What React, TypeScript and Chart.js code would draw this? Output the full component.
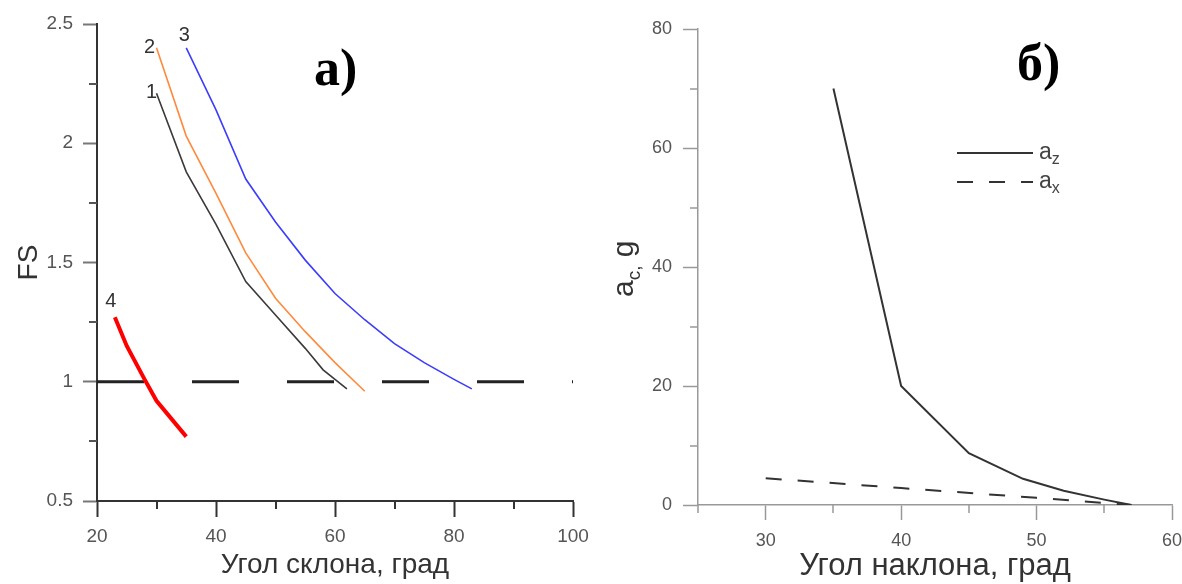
import React, { useEffect, useRef } from 'react';
import { Chart, registerables } from 'chart.js';

Chart.register(...registerables);

// ---------- Panel а): FS vs slope angle ----------
const curve1Angle = [30, 35, 40, 45, 50, 55, 58, 62];
const curve1FS = [2.21, 1.88, 1.66, 1.42, 1.28, 1.14, 1.05, 0.97];
const curve2Angle = [30, 35, 40, 45, 50, 55, 60, 65];
const curve2FS = [2.4, 2.03, 1.79, 1.54, 1.35, 1.21, 1.08, 0.96];
const curve3Angle = [35, 40, 45, 50, 55, 60, 65, 70, 75, 80, 83];
const curve3FS = [2.4, 2.14, 1.85, 1.67, 1.51, 1.37, 1.26, 1.16, 1.08, 1.01, 0.97];
const curve4Angle = [23, 25, 28, 30, 35];
const curve4FS = [1.27, 1.15, 1.01, 0.92, 0.77];
const thresholdAngle = [20, 100];
const thresholdFS = [1, 1];
const curveNames = ['1', '2', '3', '4'];
const leftXMajor = [20, 40, 60, 80, 100];
const leftXMinor = [30, 50, 70, 90];
const leftYMajor = [0.5, 1, 1.5, 2, 2.5];
const leftYMinor = [0.75, 1.25, 1.75, 2.25];
const leftXTitle = 'Угол склона, град';
const leftYTitle = 'FS';
const leftPanelTag = 'а)';

// ---------- Panel б): a_c vs inclination angle ----------
const azAngle = [35, 40, 45, 49, 52, 55, 57];
const azValue = [70, 20, 8.7, 4.4, 2.4, 0.9, 0];
const axAngle = [30, 40, 50, 57];
const axValue = [4.5, 2.85, 1.2, 0];
const legendSubs = ['z', 'x'];
const rightXMajor = [30, 40, 50, 60];
const rightXMinor = [25, 35, 45, 55];
const rightYMajor = [0, 20, 40, 60, 80];
const rightYMinor = [10, 30, 50, 70];
const rightXTitle = 'Угол наклона, град';
const rightPanelTag = 'б)';

const SANS = '"Liberation Sans", Arial, sans-serif';
const SERIF = '"Liberation Serif", "Times New Roman", serif';

const pts = (xs: number[], ys: number[]) => xs.map((x, i) => ({ x, y: ys[i] }));
const plainLabel = (v: any) => String(v);

function drawMinor(chart: any, axisId: string, values: number[], len: number, color: string, width: number) {
  const s = chart.scales[axisId];
  const ctx = chart.ctx;
  const a = chart.chartArea;
  ctx.save();
  ctx.strokeStyle = color;
  ctx.lineWidth = width;
  ctx.beginPath();
  for (const v of values) {
    const p = Math.round(s.getPixelForValue(v));
    if (s.isHorizontal()) {
      ctx.moveTo(p, a.bottom);
      ctx.lineTo(p, a.bottom + len);
    } else {
      ctx.moveTo(a.left, p);
      ctx.lineTo(a.left - len, p);
    }
  }
  ctx.stroke();
  ctx.restore();
}

const leftLabelOffsets = [
  [-5, -1],
  [-7, 0],
  [-2, -12],
  [-4, -16],
];

function leftConfig(): any {
  const line = (data: any, color: string, width: number, dash: number[] = []) => ({
    data,
    borderColor: color,
    backgroundColor: color,
    borderWidth: width,
    borderDash: dash,
    pointRadius: 0,
    tension: 0,
    fill: false,
  });
  return {
    type: 'line',
    data: {
      datasets: [
        line(pts(curve1Angle, curve1FS), '#3a3a3a', 1.6),
        line(pts(curve2Angle, curve2FS), '#ff8a3c', 1.6),
        line(pts(curve3Angle, curve3FS), '#3c3cff', 1.6),
        line(pts(curve4Angle, curve4FS), '#ff0000', 4),
        line(pts(thresholdAngle, thresholdFS), '#222222', 3, [47, 48]),
      ],
    },
    options: {
      animation: false,
      responsive: false,
      events: [],
      layout: { padding: { top: 24, right: 18, left: 0, bottom: 0 } },
      plugins: { legend: { display: false }, tooltip: { enabled: false } },
      scales: {
        x: {
          type: 'linear',
          min: 20,
          max: 100,
          afterBuildTicks: (s: any) => {
            s.ticks = leftXMajor.map((v) => ({ value: v }));
          },
          afterFit: (s: any) => {
            s.height = 83;
            s.paddingLeft = 0;
            s.paddingRight = 0;
          },
          grid: { drawOnChartArea: false, tickLength: 16, tickColor: '#333', tickWidth: 2 },
          border: { color: '#333', width: 2 },
          ticks: { font: { family: SANS, size: 19 }, color: '#555', padding: 8, maxRotation: 0, autoSkip: false, callback: plainLabel },
          title: {
            display: true,
            text: leftXTitle,
            font: { family: SANS, size: 28, lineHeight: 1 },
            color: '#333',
            padding: { top: 0, bottom: 5 },
          },
        },
        y: {
          type: 'linear',
          min: 0.5,
          max: 2.5,
          afterBuildTicks: (s: any) => {
            s.ticks = leftYMajor.map((v) => ({ value: v }));
          },
          afterFit: (s: any) => {
            s.width = 97;
            s.paddingTop = 0;
            s.paddingBottom = 0;
          },
          grid: { drawOnChartArea: false, tickLength: 14, tickColor: '#777', tickWidth: 2 },
          border: { color: '#333', width: 2 },
          ticks: { font: { family: SANS, size: 19 }, color: '#555', padding: 10, autoSkip: false, callback: plainLabel },
          title: {
            display: true,
            text: leftYTitle,
            font: { family: SANS, size: 28, lineHeight: 1 },
            color: '#333',
            padding: { top: 15, bottom: 0 },
          },
        },
      },
    },
    plugins: [
      {
        id: 'leftDecor',
        afterDraw(chart: any) {
          const ctx = chart.ctx;
          drawMinor(chart, 'x', leftXMinor, 8, '#333', 2);
          drawMinor(chart, 'y', leftYMinor, 8, '#555', 2);
          ctx.save();
          ctx.fillStyle = '#333';
          ctx.font = `20px ${SANS}`;
          ctx.textAlign = 'center';
          ctx.textBaseline = 'middle';
          curveNames.forEach((name, i) => {
            const p = chart.getDatasetMeta(i).data[0];
            ctx.fillText(name, p.x + leftLabelOffsets[i][0], p.y + leftLabelOffsets[i][1]);
          });
          ctx.fillStyle = '#000';
          ctx.font = `bold 52px ${SERIF}`;
          ctx.textAlign = 'left';
          ctx.textBaseline = 'alphabetic';
          ctx.fillText(leftPanelTag, chart.chartArea.left + 217, chart.chartArea.top + 61);
          ctx.restore();
        },
      },
    ],
  };
}

function rightConfig(): any {
  return {
    type: 'line',
    data: {
      datasets: [
        {
          data: pts(azAngle, azValue),
          borderColor: '#333',
          borderWidth: 2,
          borderDash: [],
          pointRadius: 0,
          tension: 0,
          fill: false,
        },
        {
          data: pts(axAngle, axValue),
          borderColor: '#333',
          borderWidth: 2,
          borderDash: [16, 16],
          pointRadius: 0,
          tension: 0,
          fill: false,
        },
      ],
    },
    options: {
      animation: false,
      responsive: false,
      events: [],
      layout: { padding: { top: 29, right: 10, left: 0, bottom: 0 } },
      plugins: { legend: { display: false }, tooltip: { enabled: false } },
      scales: {
        x: {
          type: 'linear',
          min: 25,
          max: 60,
          afterBuildTicks: (s: any) => {
            s.ticks = rightXMajor.map((v) => ({ value: v }));
          },
          afterFit: (s: any) => {
            s.height = 79;
            s.paddingLeft = 0;
            s.paddingRight = 0;
          },
          grid: { drawOnChartArea: false, tickLength: 15, tickColor: '#999', tickWidth: 1.5 },
          border: { color: '#999', width: 1.5 },
          ticks: { font: { family: SANS, size: 18 }, color: '#555', padding: 10, maxRotation: 0, autoSkip: false, callback: plainLabel },
          title: {
            display: true,
            text: rightXTitle,
            font: { family: SANS, size: 31, lineHeight: 1 },
            color: '#333',
            padding: { top: 0, bottom: 2 },
          },
        },
        y: {
          type: 'linear',
          min: 0,
          max: 80,
          afterBuildTicks: (s: any) => {
            s.ticks = rightYMajor.map((v) => ({ value: v }));
          },
          afterFit: (s: any) => {
            s.width = 107;
            s.paddingTop = 0;
            s.paddingBottom = 0;
          },
          grid: { drawOnChartArea: false, tickLength: 15, tickColor: '#999', tickWidth: 1.5 },
          border: { color: '#999', width: 1.5 },
          ticks: { font: { family: SANS, size: 18 }, color: '#555', padding: 11, autoSkip: false, callback: plainLabel },
        },
      },
    },
    plugins: [
      {
        id: 'rightDecor',
        afterDraw(chart: any) {
          const ctx = chart.ctx;
          const a = chart.chartArea;
          drawMinor(chart, 'x', rightXMinor, 8, '#999', 1.5);
          drawMinor(chart, 'y', rightYMinor, 8, '#999', 1.5);
          ctx.save();
          // legend
          const lx0 = a.left + 259;
          const lx1 = a.left + 335;
          const rows = [a.top + 124, a.top + 153];
          chart.data.datasets.forEach((ds: any, i: number) => {
            ctx.strokeStyle = ds.borderColor;
            ctx.lineWidth = 2;
            ctx.setLineDash(ds.borderDash || []);
            ctx.beginPath();
            ctx.moveTo(lx0, rows[i]);
            ctx.lineTo(lx1, rows[i]);
            ctx.stroke();
            ctx.setLineDash([]);
            ctx.fillStyle = '#444';
            ctx.textAlign = 'left';
            ctx.textBaseline = 'middle';
            ctx.font = `23px ${SANS}`;
            ctx.fillText('a', lx1 + 6, rows[i]);
            const w = ctx.measureText('a').width;
            ctx.font = `16px ${SANS}`;
            ctx.fillText(legendSubs[i], lx1 + 6 + w, rows[i] + 7);
          });
          // y title a_c, g
          ctx.fillStyle = '#333';
          ctx.translate(42, 297);
          ctx.rotate(-Math.PI / 2);
          ctx.textAlign = 'left';
          ctx.textBaseline = 'alphabetic';
          ctx.font = `30px ${SANS}`;
          ctx.fillText('a', 0, 0);
          let x = ctx.measureText('a').width;
          ctx.font = `19px ${SANS}`;
          ctx.fillText('c,', x, 7);
          x += ctx.measureText('c,').width;
          ctx.font = `30px ${SANS}`;
          ctx.fillText(' g', x, 0);
          ctx.restore();
          // panel tag
          ctx.save();
          ctx.fillStyle = '#000';
          ctx.font = `bold 52px ${SERIF}`;
          ctx.textAlign = 'left';
          ctx.textBaseline = 'alphabetic';
          ctx.fillText(rightPanelTag, a.left + 319, a.top + 51);
          ctx.restore();
        },
      },
    ],
  };
}

function ChartCanvas({ make, left, width, height }: { make: () => any; left: number; width: number; height: number }) {
  const ref = useRef<HTMLCanvasElement>(null);
  useEffect(() => {
    const chart = new Chart(ref.current as HTMLCanvasElement, make());
    return () => chart.destroy();
  }, []);
  return (
    <canvas
      ref={ref}
      width={width}
      height={height}
      style={{ position: 'absolute', left, top: 0, width, height, display: 'block' }}
    />
  );
}

export default function App() {
  return (
    <div style={{ position: 'fixed', left: 0, top: 0, width: 1182, height: 584, background: '#fff', overflow: 'hidden' }}>
      <ChartCanvas make={leftConfig} left={0} width={591} height={584} />
      <ChartCanvas make={rightConfig} left={591} width={591} height={584} />
    </div>
  );
}
